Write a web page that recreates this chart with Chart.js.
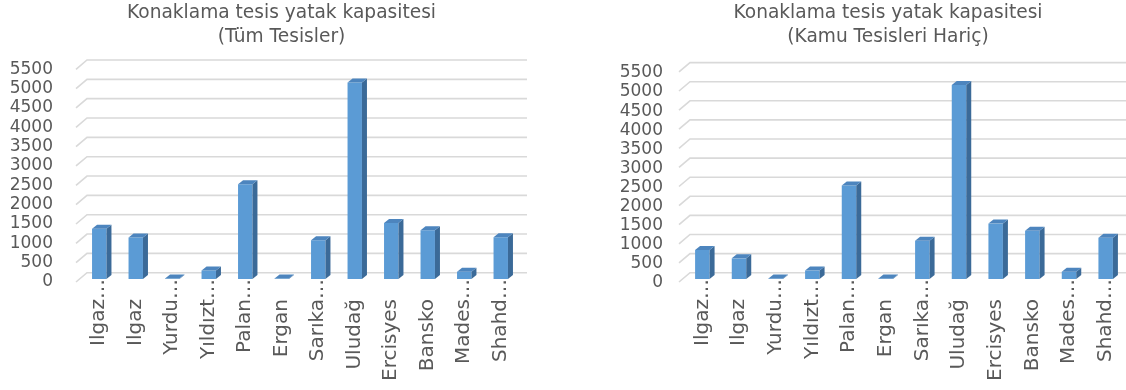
<!DOCTYPE html>
<html lang="tr">
<head>
<meta charset="utf-8">
<title>Konaklama tesis yatak kapasitesi</title>
<script src="https://cdn.jsdelivr.net/npm/chart.js@4.4.1/dist/chart.umd.min.js"></script>
<style>
  html, body { margin: 0; padding: 0; background: #fff; }
  body { width: 1126px; height: 390px; position: relative; overflow: hidden; }
  .box { position: absolute; top: 0; height: 390px; }
</style>
</head>
<body>
<div class="box" style="left:0;width:563px"><canvas id="chartAll" width="563" height="390"></canvas></div>
<div class="box" style="left:603px;width:570px"><canvas id="chartPrivate" width="570" height="390"></canvas></div>
<script>
const resorts = ['Ilgaz…', 'Ilgaz', 'Yurdu…', 'Yıldızt…', 'Palan…', 'Ergan', 'Sarıka…', 'Uludağ', 'Ercisyes', 'Bansko', 'Mades…', 'Shahd…'];
const bedsAll = [1300, 1070, 15, 220, 2450, 15, 1000, 5080, 1450, 1260, 190, 1080];
const bedsPrivate = [760, 540, 15, 220, 2450, 15, 1000, 5080, 1450, 1260, 190, 1080];
const yMax = 5500, yStep = 500;
const titleTop = 'Konaklama tesis yatak kapasitesi';
const titleAll = '(Tüm Tesisler)';
const titlePrivate = '(Kamu Tesisleri Hariç)';

const textGrey = '#595959';
const font = 'DejaVu Sans';

// back wall grid + 3d faces of the columns
const depth3d = {
    id: 'depth3d',
    afterLayout(chart) {
        // title centred on the whole canvas, not on the padded area
        const t = chart.titleBlock;
        if (t) { t.left = 0; t.right = chart.width; t.width = chart.width; }
    },
    beforeDatasetsDraw(chart) {
        const { ctx, chartArea } = chart;
        const y = chart.scales.y;
        ctx.save();
        ctx.strokeStyle = '#d9d9d9';
        ctx.lineWidth = 1.6;
        y.ticks.forEach(t => {
            const py = y.getPixelForValue(t.value);
            ctx.beginPath();
            ctx.moveTo(chartArea.left - 5, py + 3);
            ctx.lineTo(chartArea.left + 6, py - 6.3);
            ctx.lineTo(chartArea.right + 8, py - 6.3);
            ctx.stroke();
        });
        ctx.restore();
    },
    afterDatasetsDraw(chart) {
        const { ctx } = chart;
        const dx = 5, dy = 4;
        ctx.save();
        chart.getDatasetMeta(0).data.forEach(bar => {
            const { x, y, base, width } = bar.getProps(['x', 'y', 'base', 'width'], true);
            const l = x - width / 2, r = x + width / 2;
            ctx.fillStyle = '#3b6a98';
            ctx.beginPath();
            ctx.moveTo(r, y);
            ctx.lineTo(r + dx, y - dy);
            ctx.lineTo(r + dx, base - dy);
            ctx.lineTo(r, base);
            ctx.closePath();
            ctx.fill();
            ctx.fillStyle = '#4d85be';
            ctx.beginPath();
            ctx.moveTo(l, y);
            ctx.lineTo(l + dx, y - dy);
            ctx.lineTo(r + dx, y - dy);
            ctx.lineTo(r, y);
            ctx.closePath();
            ctx.fill();
        });
        ctx.restore();
    }
};

function makeChart(id, subtitle, values, padRight, labelPad, labelShift, titleGap) {
    const ctx = document.getElementById(id).getContext('2d');
    return new Chart(ctx, {
        type: 'bar',
        data: {
            labels: resorts,
            datasets: [{
                data: values,
                backgroundColor: '#5b9bd5',
                borderWidth: 0,
                categoryPercentage: 1,
                barPercentage: 0.395
            }]
        },
        options: {
            responsive: false,
            animation: false,
            layout: { padding: { left: 0, right: padRight, top: 0, bottom: 0 } },
            plugins: {
                legend: { display: false },
                tooltip: { enabled: false },
                title: {
                    display: true,
                    text: [titleTop, subtitle],
                    color: textGrey,
                    font: { family: font, size: 18.6, weight: 'normal', lineHeight: 24 / 18.6 },
                    padding: { top: 1, bottom: titleGap }
                }
            },
            scales: {
                x: {
                    grid: { display: false, drawTicks: false },
                    border: { display: false },
                    ticks: {
                        autoSkip: false,
                        minRotation: 90,
                        maxRotation: 90,
                        padding: 0,
                        color: textGrey,
                        font: { family: font, size: 20 },
                        callback(value) {
                            const s = this.getLabelForValue(value);
                            return s.endsWith('…') ? s : s + '\u2003';
                        }
                    },
                    afterFit: s => { s.height = 111; }
                },
                y: {
                    min: 0,
                    max: yMax,
                    grid: { display: false, drawTicks: false },
                    border: { display: false },
                    ticks: {
                        stepSize: yStep,
                        autoSkip: false,
                        maxTicksLimit: 20,
                        padding: labelPad,
                        labelOffset: labelShift,
                        color: textGrey,
                        font: { family: font, size: 17 },
                        callback: v => String(v)
                    },
                    afterFit: s => { s.width = 81; }
                }
            }
        },
        plugins: [depth3d]
    });
}

makeChart('chartAll', titleAll, bedsAll, 44, 28, 3, 17.3);
makeChart('chartPrivate', titlePrivate, bedsPrivate, 49, 21, 4, 19.9);
</script>
</body>
</html>
